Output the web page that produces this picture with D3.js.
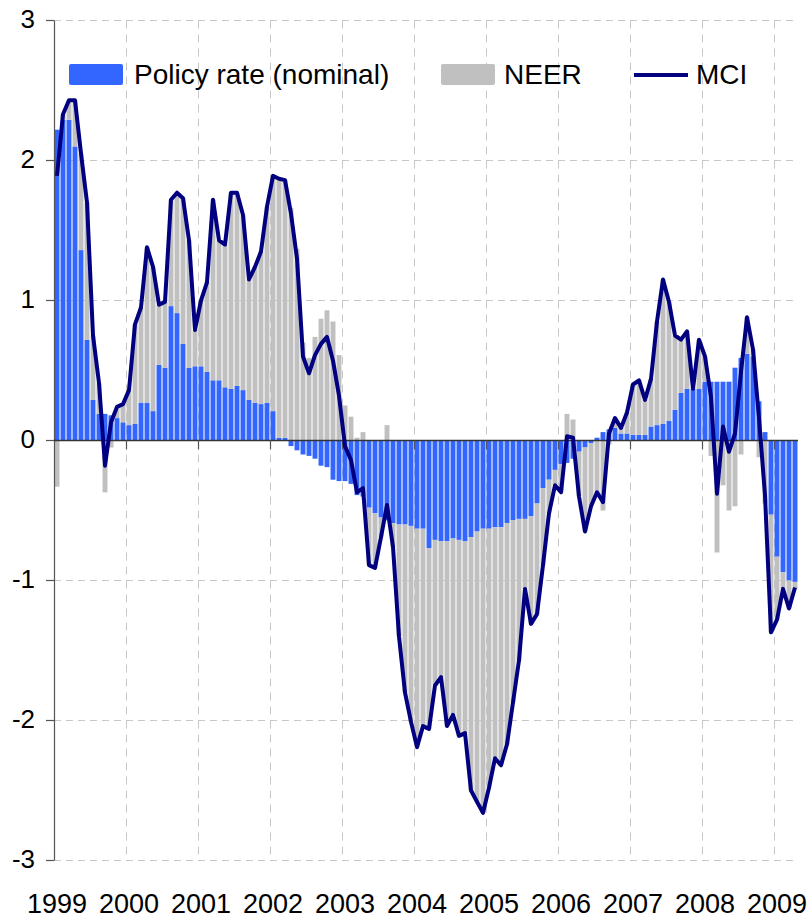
<!DOCTYPE html>
<html>
<head>
<meta charset="utf-8">
<script src="https://cdn.jsdelivr.net/npm/d3@7"></script>
<style>
  html, body { margin: 0; padding: 0; background: #fff; }
  svg { display: block; font-family: "Liberation Sans", Arial, sans-serif; }
</style>
</head>
<body>
<svg id="chart" width="810" height="918"></svg>
<script>
// ---- data (monthly, Jan 1999 - Apr 2009) ----
const years = ["1999","2000","2001","2002","2003","2004","2005","2006","2007","2008","2009"];
const yTicks = [-3, -2, -1, 0, 1, 2, 3];

const policy = [
  2.22, 2.29, 2.29, 2.10, 1.36, 0.72, 0.29, 0.19, 0.19, 0.18, 0.16, 0.13,
  0.11, 0.12, 0.27, 0.27, 0.21, 0.54, 0.52, 0.96, 0.91, 0.69, 0.52, 0.53,
  0.53, 0.49, 0.43, 0.43, 0.38, 0.37, 0.39, 0.36, 0.29, 0.27, 0.26, 0.27,
  0.21, 0.02, 0.02, -0.04, -0.07, -0.10, -0.11, -0.13, -0.18, -0.19, -0.28, -0.29,
  -0.29, -0.31, -0.39, -0.40, -0.48, -0.52, -0.55, -0.57, -0.59, -0.60, -0.60, -0.61,
  -0.63, -0.63, -0.77, -0.71, -0.72, -0.72, -0.70, -0.71, -0.72, -0.69, -0.65, -0.63,
  -0.63, -0.62, -0.62, -0.59, -0.57, -0.56, -0.56, -0.54, -0.45, -0.34, -0.28, -0.21,
  -0.17, -0.16, -0.13, -0.08, -0.05, -0.02, 0.02, 0.06, 0.08, 0.09, 0.05, 0.05,
  0.04, 0.04, 0.04, 0.10, 0.11, 0.12, 0.14, 0.22, 0.34, 0.37, 0.37, 0.37,
  0.42, 0.42, 0.42, 0.42, 0.42, 0.52, 0.59, 0.62, 0.60, 0.28, 0.06, -0.53,
  -0.83, -0.94, -1.00, -1.01
];

const neer = [
  -0.33, 0.04, 0.14, 0.33, 0.69, 0.98, 0.46, 0.22, -0.37, -0.05, 0.08, 0.13,
  0.25, 0.71, 0.68, 1.11, 1.03, 0.43, 0.47, 0.76, 0.86, 1.04, 0.91, 0.26,
  0.47, 0.64, 1.29, 1.00, 1.02, 1.40, 1.38, 1.25, 0.86, 0.97, 1.09, 1.40,
  1.68, 1.85, 1.84, 1.66, 1.37, 0.70, 0.59, 0.74, 0.87, 0.93, 0.85, 0.61,
  0.25, 0.17, 0.02, 0.06, -0.41, -0.39, -0.14, 0.11, -0.17, -0.80, -1.20, -1.40,
  -1.56, -1.41, -1.29, -1.04, -0.97, -1.32, -1.26, -1.40, -1.37, -1.81, -1.93, -2.03,
  -1.85, -1.65, -1.70, -1.58, -1.30, -1.01, -0.50, -0.77, -0.79, -0.55, -0.24, -0.11,
  -0.20, 0.19, 0.15, -0.32, -0.60, -0.45, -0.39, -0.50, -0.03, 0.07, 0.04, 0.15,
  0.36, 0.39, 0.25, 0.34, 0.74, 1.03, 0.85, 0.53, 0.38, 0.41, 0.00, 0.35,
  0.18, -0.11, -0.80, -0.32, -0.50, -0.47, -0.10, 0.26, 0.05, -0.12, -0.45, -0.84,
  -0.45, -0.12, -0.20, -0.05
];

const mci = [
  1.89, 2.33, 2.43, 2.43, 2.05, 1.70, 0.75, 0.41, -0.18, 0.13, 0.24, 0.26,
  0.36, 0.83, 0.95, 1.38, 1.24, 0.97, 0.99, 1.72, 1.77, 1.73, 1.43, 0.79,
  1.00, 1.13, 1.72, 1.43, 1.40, 1.77, 1.77, 1.61, 1.15, 1.24, 1.35, 1.67,
  1.89, 1.87, 1.86, 1.62, 1.30, 0.60, 0.48, 0.61, 0.69, 0.74, 0.57, 0.32,
  -0.04, -0.14, -0.37, -0.34, -0.89, -0.91, -0.69, -0.46, -0.76, -1.40, -1.80, -2.01,
  -2.19, -2.04, -2.06, -1.75, -1.69, -2.04, -1.96, -2.11, -2.09, -2.50, -2.58, -2.66,
  -2.48, -2.27, -2.32, -2.17, -1.87, -1.57, -1.06, -1.31, -1.24, -0.89, -0.52, -0.32,
  -0.37, 0.03, 0.02, -0.40, -0.65, -0.47, -0.37, -0.44, 0.05, 0.16, 0.09, 0.20,
  0.40, 0.43, 0.29, 0.44, 0.85, 1.15, 0.99, 0.75, 0.72, 0.78, 0.37, 0.72,
  0.60, 0.31, -0.38, 0.10, -0.08, 0.05, 0.49, 0.88, 0.65, 0.16, -0.39, -1.37,
  -1.28, -1.06, -1.20, -1.05
];

const seriesNames = ["Policy rate (nominal)", "NEER", "MCI"];
const colors = { policy: "#3366FF", neer: "#C0C0C0", mci: "#000080" };

// month categories
const months = policy.map((d, i) => years[Math.floor(i / 12)] + "-" + String(i % 12 + 1).padStart(2, "0"));
const rows = months.map((m, i) => ({ month: m, policy: policy[i], neer: neer[i], mci: mci[i] }));

// ---- layout ----
const svg = d3.select("#chart");
const plotLeft = 54, plotRight = 798, plotTop = 20.5, plotBottom = 860.5;

const x = d3.scaleBand().domain(months).range([plotLeft, plotRight]).paddingInner(0.18).paddingOuter(0.09);
const y = d3.scaleLinear().domain([-3, 3]).range([plotBottom, plotTop]);

const gridColor = "#C8C8C8";
const yearStarts = years.slice(1).map(yr => yr + "-01");
const boundaryX = m => Math.round(x(m) - (x.step() - x.bandwidth()) / 2) + 0.5;

// horizontal gridlines
svg.append("g").selectAll("line")
  .data(yTicks.filter(t => t !== 0))
  .join("line")
  .attr("x1", plotLeft).attr("x2", plotRight)
  .attr("y1", d => y(d)).attr("y2", d => y(d))
  .attr("stroke", gridColor).attr("stroke-width", 1)
  .attr("stroke-dasharray", "7,5");

// vertical gridlines at year boundaries
svg.append("g").selectAll("line")
  .data(yearStarts)
  .join("line")
  .attr("x1", boundaryX).attr("x2", boundaryX)
  .attr("y1", plotTop).attr("y2", plotBottom)
  .attr("stroke", gridColor).attr("stroke-width", 1)
  .attr("stroke-dasharray", "8,6");

// stacked bars (diverging)
const stack = d3.stack().keys(["policy", "neer"]).offset(d3.stackOffsetDiverging);
const stacked = stack(rows);

svg.append("g").selectAll("g")
  .data(stacked)
  .join("g")
  .attr("fill", d => colors[d.key])
  .selectAll("rect")
  .data(d => d)
  .join("rect")
  .attr("x", d => x(d.data.month))
  .attr("width", x.bandwidth())
  .attr("y", d => y(Math.max(d[0], d[1])))
  .attr("height", d => Math.abs(y(d[0]) - y(d[1])));

// axes
const axisColor = "#555";
svg.append("line")
  .attr("x1", plotLeft + 0.5).attr("x2", plotLeft + 0.5)
  .attr("y1", plotTop).attr("y2", plotBottom)
  .attr("stroke", axisColor).attr("stroke-width", 1.2);
svg.append("g").selectAll("line")
  .data(yTicks)
  .join("line")
  .attr("x1", plotLeft - 8).attr("x2", plotLeft)
  .attr("y1", d => y(d)).attr("y2", d => y(d))
  .attr("stroke", axisColor).attr("stroke-width", 1.2);
svg.append("g").selectAll("text")
  .data(yTicks)
  .join("text")
  .attr("x", 35)
  .attr("y", d => y(d) + 7)
  .attr("text-anchor", "end")
  .attr("font-size", "26px")
  .attr("fill", "#000")
  .text(d => String(d));

// zero line (x axis)
svg.append("line")
  .attr("x1", plotLeft).attr("x2", plotRight)
  .attr("y1", y(0)).attr("y2", y(0))
  .attr("stroke", "#333").attr("stroke-width", 1.5);
svg.append("g").selectAll("line")
  .data(yearStarts)
  .join("line")
  .attr("x1", boundaryX).attr("x2", boundaryX)
  .attr("y1", y(0)).attr("y2", y(0) + 9)
  .attr("stroke", axisColor).attr("stroke-width", 1.2);
svg.append("g").selectAll("text")
  .data(years)
  .join("text")
  .attr("x", d => x(d + "-01") + x.bandwidth() / 2)
  .attr("y", 913)
  .attr("text-anchor", "middle")
  .attr("font-size", "27px")
  .attr("fill", "#000")
  .text(d => d);

// MCI line
const line = d3.line()
  .x(d => x(d.month) + x.bandwidth() / 2)
  .y(d => y(d.mci));
svg.append("path")
  .datum(rows)
  .attr("fill", "none")
  .attr("stroke", colors.mci)
  .attr("stroke-width", 4)
  .attr("stroke-linejoin", "round")
  .attr("d", line);

// legend
const lg = svg.append("g").attr("font-size", "28px");
lg.append("rect").attr("x", 69).attr("y", 64).attr("width", 54).attr("height", 21).attr("rx", 2).attr("fill", colors.policy);
lg.append("text").attr("x", 134).attr("y", 83.5).text(seriesNames[0]);
lg.append("rect").attr("x", 441).attr("y", 64).attr("width", 54).attr("height", 21).attr("rx", 2).attr("fill", colors.neer);
lg.append("text").attr("x", 504).attr("y", 83.5).text(seriesNames[1]);
lg.append("line").attr("x1", 634).attr("x2", 688).attr("y1", 75).attr("y2", 75).attr("stroke", colors.mci).attr("stroke-width", 4);
lg.append("text").attr("x", 696).attr("y", 83.5).text(seriesNames[2]);
</script>
</body>
</html>
